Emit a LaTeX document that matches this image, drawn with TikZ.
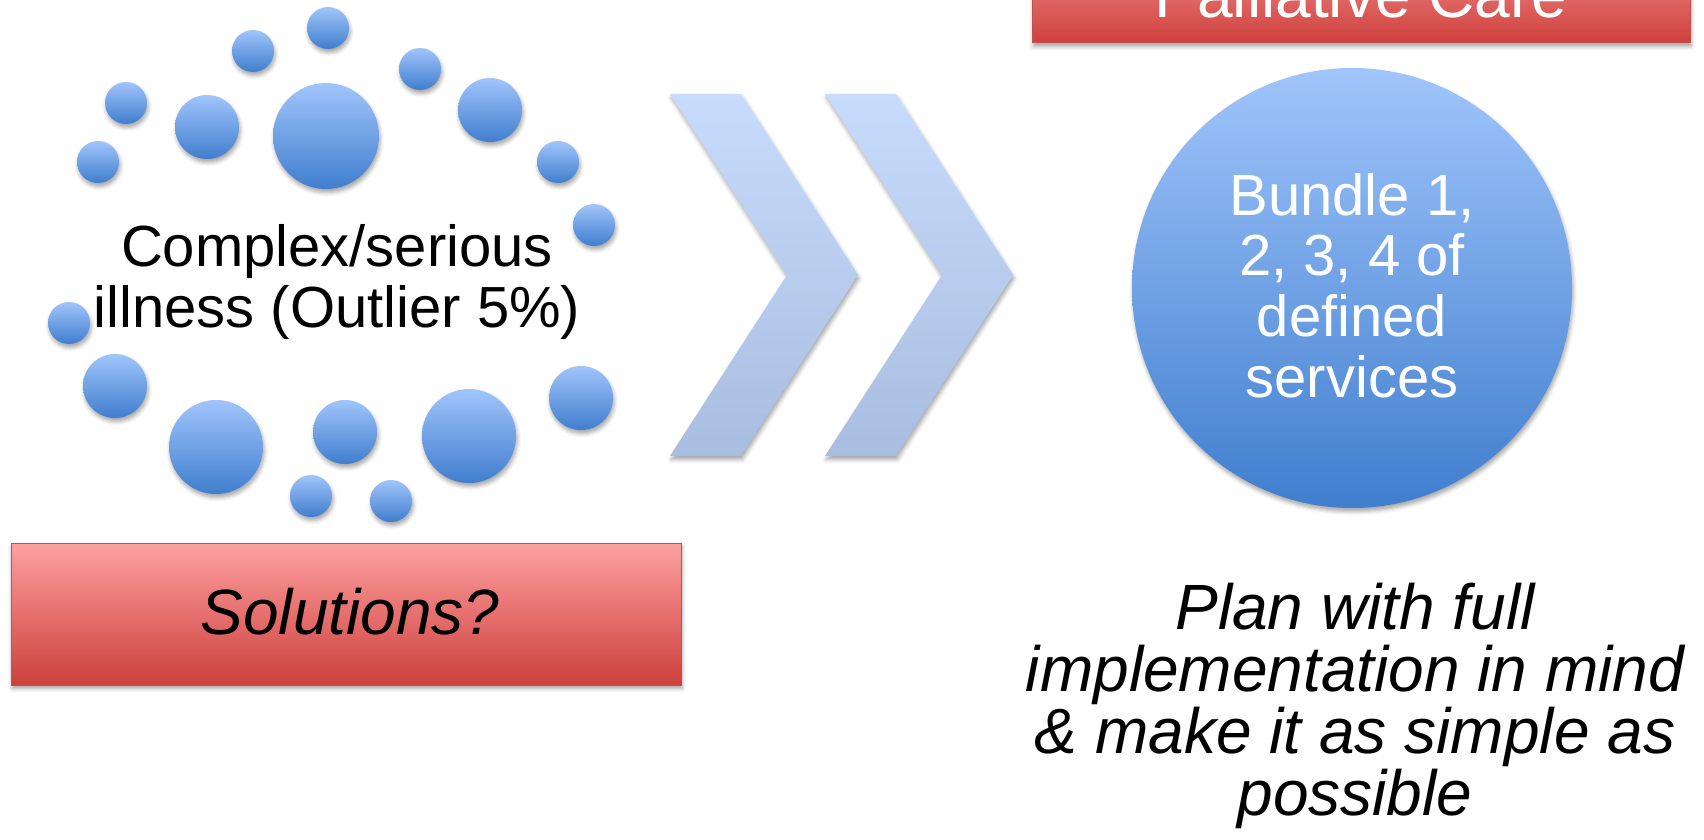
\documentclass[tikz,border=0pt]{standalone}
\usepackage{fontspec}
\setmainfont{Liberation Sans}
\usetikzlibrary{shadows.blur}
\definecolor{bubtop}{RGB}{160,197,251}
\definecolor{bubbot}{RGB}{64,126,206}
\definecolor{chevtop}{RGB}{199,219,253}
\definecolor{chevbot}{RGB}{169,189,224}
\definecolor{redtop}{RGB}{253,160,160}
\definecolor{redbot}{RGB}{205,64,60}
\definecolor{redline}{RGB}{192,80,77}
\begin{document}
\begin{tikzpicture}[x=0.5pt,y=-0.5pt,
  softshadow/.style={blur shadow={shadow xshift=0.6pt, shadow yshift=-1.8pt, shadow blur radius=2pt, shadow opacity=35}},
  bubble/.style={circle, inner sep=0pt, shading=axis, top color=bubtop, bottom color=bubbot, softshadow},
  sbub/.style={bubble, minimum size=21pt},
  mbub/.style={bubble, minimum size=32pt},
  lbub/.style={bubble, minimum size=47pt},
  chevron/.style={shading=axis, top color=chevtop, bottom color=chevbot, softshadow},
  redbox/.style={rectangle, inner sep=0pt, shading=axis, top color=redtop, bottom color=redbot, draw=redline, line width=0.5pt, softshadow},
  bigtext/.style={font=\fontsize{29pt}{30.3pt}\selectfont, align=center, inner sep=0pt},
  redtext/.style={font=\fontsize{32pt}{31pt}\selectfont, align=center, inner sep=0pt}
]
\useasboundingbox (0,0) rectangle (1704,840);
\clip (0,0) rectangle (1704,840);

% bubbles around the left text
\node[sbub] (b1) at (328,28) {};
\node[sbub] (b2) at (253,51) {};
\node[sbub] (b3) at (420,69) {};
\node[sbub] (b4) at (126,103) {};
\node[mbub] (b5) at (207,127) {};
\node[bubble, minimum size=53pt] (b6) at (326,136) {};
\node[mbub] (b7) at (490,110) {};
\node[sbub] (b8) at (98,162) {};
\node[sbub] (b9) at (558,162) {};
\node[sbub] (b10) at (594,225) {};
\node[sbub] (b11) at (69,323) {};
\node[mbub] (b12) at (115,386) {};
\node[lbub] (b13) at (216,447) {};
\node[mbub] (b14) at (345,432) {};
\node[lbub] (b15) at (469,436) {};
\node[mbub] (b16) at (581,398) {};
\node[sbub] (b17) at (311,496) {};
\node[sbub] (b18) at (391,501) {};

% base anchor of a multi-line node = baseline of its last line
\node[bigtext, anchor=base] (illness) at (337,327) {Complex/serious\\illness (Outlier 5\%)};

% chevrons
\path[chevron] (670,94) -- (741,94) -- (858,275) -- (741,456) -- (670,456) -- (787,275) -- cycle;
\path[chevron] (825,94) -- (896,94) -- (1013,275) -- (896,456) -- (825,456) -- (942,275) -- cycle;

% Solutions box
\node[redbox, minimum width=335pt, minimum height=71pt] (solbox) at (346,614) {};
\node[redtext, anchor=base] (sol) at (350,634) {\itshape Solutions?};

% Palliative Care box
\node[redbox, minimum width=329pt, minimum height=56.5pt] (pallbox) at (1361,-13.5) {};
\node[redtext, anchor=base, text=white] (pall) at (1361,18) {Palliative Care};

% big circle
\node[bubble, minimum size=220pt] (big) at (1352,288) {};
\node[bigtext, anchor=base, text=white] (bundle) at (1352,397) {Bundle 1,\\2, 3, 4 of\\defined\\services};

% plan text
\node[redtext, anchor=base] (plan) at (1355,815) {\itshape Plan with full\\\itshape implementation in mind\\\itshape \& make it as simple as\\\itshape possible};
\end{tikzpicture}
\end{document}
